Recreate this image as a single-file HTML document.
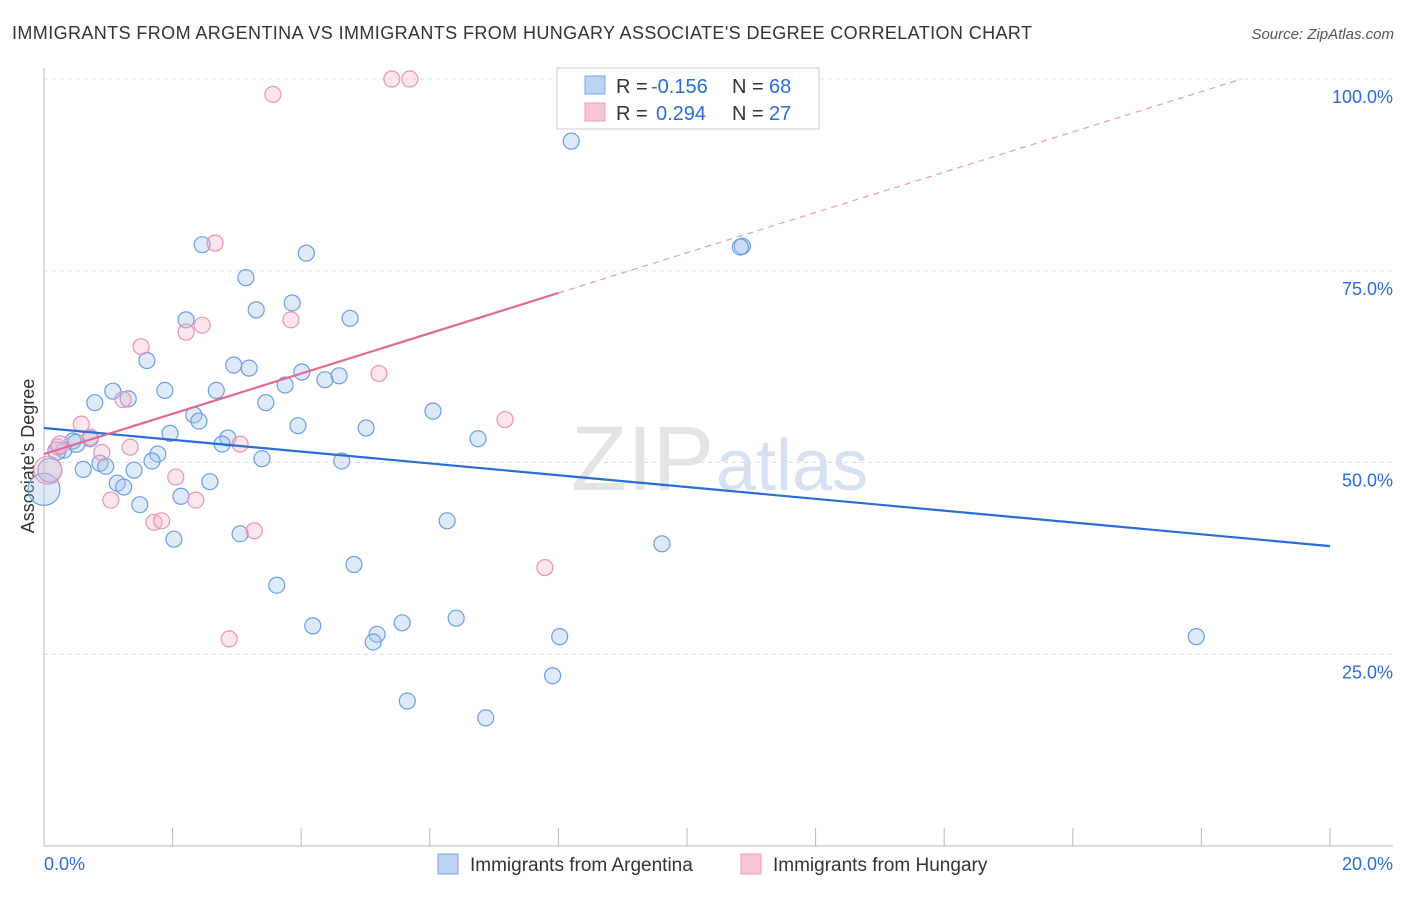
<!DOCTYPE html>
<html><head><meta charset="utf-8"><style>
body{margin:0;background:#fff;font-family:"Liberation Sans",sans-serif;}
svg text{font-family:"Liberation Sans",sans-serif;}
</style></head><body>
<svg id="c" width="1406" height="892">
<text x="12" y="39" font-size="18" textLength="1020" fill="#333">IMMIGRANTS FROM ARGENTINA VS IMMIGRANTS FROM HUNGARY ASSOCIATE'S DEGREE CORRELATION CHART</text>
<text x="1394" y="39" font-size="15" fill="#555" font-style="italic" text-anchor="end">Source: ZipAtlas.com</text>
<text x="34" y="456" font-size="18" fill="#333" text-anchor="middle" transform="rotate(-90 34 456)">Associate's Degree</text>
<g id="grid"></g>
<text x="714" y="490" font-size="92" fill="#e4e4e4" text-anchor="end" font-family="Liberation Serif">ZIP</text>
<text x="716" y="490" font-size="72" fill="#d6e2f3">atlas</text>
<g id="pts"></g>
<g id="lines"></g>
<g>
<rect x="557" y="68" width="262" height="61" fill="#fff" stroke="#ccc"/>
<rect x="585" y="76" width="20" height="18" fill="#bcd3f5" stroke="#7aa7e6"/>
<rect x="585" y="103" width="20" height="18" fill="#f9c6d5" stroke="#ee9ab3"/>
<text x="616" y="93" font-size="20" fill="#333">R =</text>
<text x="651" y="93" font-size="20" fill="#2a6dd6">-0.156</text>
<text x="732" y="93" font-size="20" fill="#333">N =</text>
<text x="769" y="93" font-size="20" fill="#2a6dd6">68</text>
<text x="616" y="120" font-size="20" fill="#333">R =</text>
<text x="656" y="120" font-size="20" fill="#2a6dd6">0.294</text>
<text x="732" y="120" font-size="20" fill="#333">N =</text>
<text x="769" y="120" font-size="20" fill="#2a6dd6">27</text>
</g>
<g>
<rect x="438" y="854" width="20" height="20" fill="#bcd3f5" stroke="#7aa7e6"/>
<text x="470" y="871" font-size="19" fill="#333">Immigrants from Argentina</text>
<rect x="741" y="854" width="20" height="20" fill="#f9c6d5" stroke="#ee9ab3"/>
<text x="773" y="871" font-size="19" fill="#333">Immigrants from Hungary</text>
</g>
</svg>
<script>
const yTicks=[25,50,75,100];
const xTickLabels=["0.0%","20.0%"];
const blueX=[8.2,10.86,10.83,2.46,4.08,3.14,3.86,3.3,4.76,2.21,1.6,2.95,3.19,4.01,3.75,4.37,4.59,1.07,1.88,2.68,0.79,1.31,3.45,6.05,2.33,2.41,3.95,5.01,1.96,2.86,2.77,0.72,0.45,0.31,6.75,1.77,1.68,3.39,4.63,0.87,0.96,0.61,1.4,1.14,1.24,2.58,2.13,1.49,6.27,3.05,2.02,9.61,4.82,3.62,4.18,5.57,6.41,5.18,5.12,8.02,17.92,7.91,5.65,6.87,0.0,0.09,0.2,0.5];
const blueY=[91.9,78.2,78.1,78.4,77.3,74.1,70.8,69.9,68.8,68.6,63.3,62.7,62.3,61.8,60.1,60.8,61.3,59.3,59.4,59.4,57.8,58.3,57.8,56.7,56.2,55.4,54.8,54.5,53.8,53.2,52.4,53.1,52.8,51.6,53.1,51.1,50.2,50.5,50.2,49.9,49.5,49.1,49.0,47.3,46.8,47.5,45.6,44.5,42.4,40.7,40.0,39.4,36.7,34.0,28.7,29.1,29.7,27.6,26.6,27.3,27.3,22.2,18.9,16.7,46.5,49.0,51.5,52.5];
const blueR=[8,8,8,8,8,8,8,8,8,8,8,8,8,8,8,8,8,8,8,8,8,8,8,8,8,8,8,8,8,8,8,8,8,8,8,8,8,8,8,8,8,8,8,8,8,8,8,8,8,8,8,8,8,8,8,8,8,8,8,8,8,8,8,8,16,12,9,9];
const pinkX=[5.41,5.69,3.56,2.66,3.84,2.46,2.21,1.51,5.21,1.23,7.17,0.58,0.72,0.22,1.34,0.9,3.05,2.05,2.36,1.04,1.71,1.83,3.27,7.79,2.88,0.06,0.25];
const pinkY=[100,100,98.0,78.6,68.6,67.9,67.0,65.1,61.6,58.2,55.6,55.0,53.3,52.0,52.0,51.3,52.4,48.1,45.1,45.1,42.2,42.4,41.1,36.3,27.0,49.0,52.3];
const pinkR=[8,8,8,8,8,8,8,8,8,8,8,8,8,8,8,8,8,8,8,8,8,8,8,8,8,14,9];
const blueLine=[54.5,39.1];
const pinkLine=[51.1,72.1];
const NS="http://www.w3.org/2000/svg";
const X=v=>44+v/20*1286, Y=v=>846-v/100*767;
function mk(p,t,a){const e=document.createElementNS(NS,t);for(const k in a)e.setAttribute(k,a[k]);p.appendChild(e);return e;}
const grid=document.getElementById('grid');
yTicks.forEach(t=>{const l=mk(grid,'line',{x1:44,x2:1393,y1:Y(t),y2:Y(t),stroke:'#ddd','stroke-dasharray':'4 4'});


const tx=mk(grid,'text',{x:1393,y:Y(t)+24,'font-size':18,fill:'#2a6dd6','text-anchor':'end'});tx.textContent=t.toFixed(1)+'%';

});
mk(grid,'line',{x1:44,x2:44,y1:68,y2:846,stroke:'#bbb'});
mk(grid,'line',{x1:44,x2:1393,y1:846,y2:846,stroke:'#bbb'});
for(let i=0;i<=10;i++){const x=X(i*2);const tk=mk(grid,'line',{x1:x,x2:x,y1:828,y2:846,stroke:'#bbb'});

}
[[0,'start'],[20,'end']].forEach((d,i)=>{const t=mk(grid,'text',{x:i?1393:44,y:870,'font-size':18,fill:'#2a6dd6','text-anchor':d[1]});t.textContent=xTickLabels[i];

});
const pts=document.getElementById('pts');
blueX.forEach((x,i)=>{const c=mk(pts,'circle',{cx:X(x),cy:Y(blueY[i]),r:blueR[i],fill:'rgba(160,195,240,0.35)',stroke:'#6a9fe3','stroke-width':1.2});

});
pinkX.forEach((x,i)=>{const c=mk(pts,'circle',{cx:X(x),cy:Y(pinkY[i]),r:pinkR[i],fill:'rgba(246,180,200,0.35)',stroke:'#ec93ae','stroke-width':1.2});

});
const L=document.getElementById('lines');
const b=mk(L,'line',{x1:X(0),y1:Y(blueLine[0]),x2:X(20),y2:Y(blueLine[1]),stroke:'#2a6dd6','stroke-width':2.2});


const sl=(pinkLine[1]-pinkLine[0])/8;
const p=mk(L,'line',{x1:X(0),y1:Y(pinkLine[0]),x2:X(8),y2:Y(pinkLine[1]),stroke:'#e26a93','stroke-width':2.2});


const xe=(100-pinkLine[0])/sl;
const pd=mk(L,'line',{x1:X(8),y1:Y(pinkLine[1]),x2:X(xe),y2:Y(100),stroke:'#e89ab4','stroke-width':1.2,'stroke-dasharray':'6 5'});


</script>
</body></html>
